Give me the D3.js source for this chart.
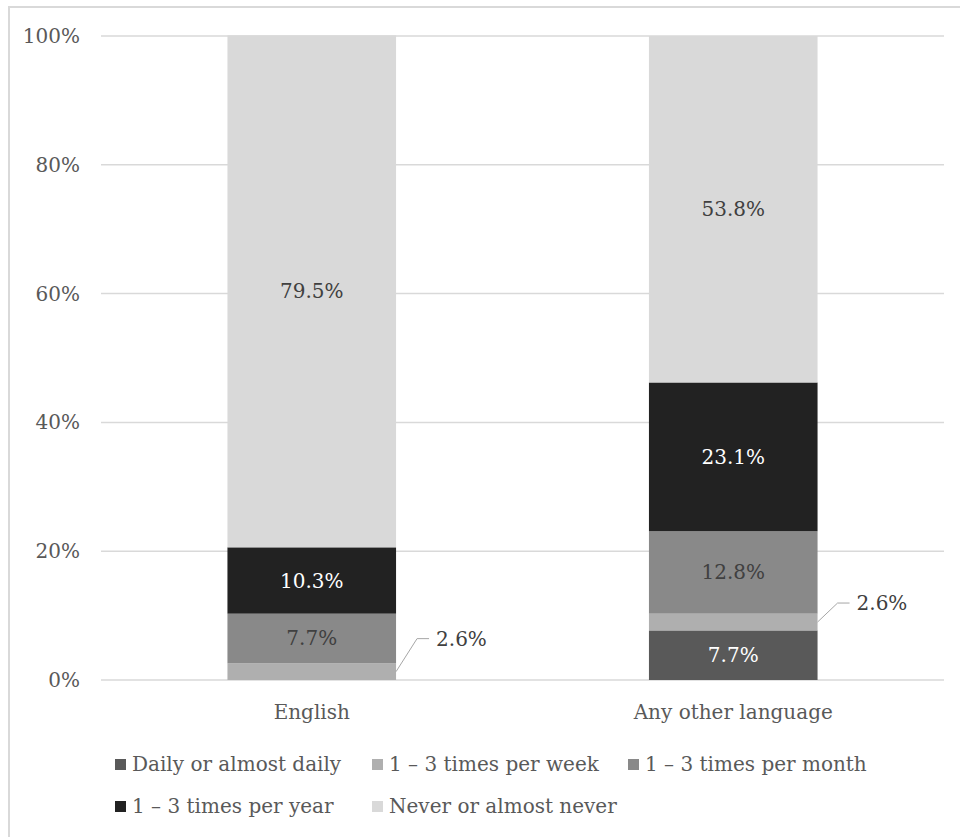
<!DOCTYPE html>
<html>
<head>
<meta charset="utf-8">
<script src="https://cdn.jsdelivr.net/npm/d3@7"></script>
<style>
  html, body { margin: 0; padding: 0; background: #fff; }
  svg { display: block; }
  text { font-family: "DejaVu Serif", "Liberation Serif", serif; }
</style>
</head>
<body>
<svg id="chart" width="960" height="837"></svg>
<script>
// Languages shown on the x axis
const categories = ["English", "Any other language"];

// Frequency series, bottom to top of each stack (percent)
const seriesNames = [
  "Daily or almost daily",
  "1 – 3 times per week",
  "1 – 3 times per month",
  "1 – 3 times per year",
  "Never or almost never"
];
const daily   = [0.0, 7.7];
const weekly  = [2.6, 2.6];
const monthly = [7.7, 12.8];
const yearly  = [10.3, 23.1];
const never   = [79.5, 53.8];

const yTicks = [0, 20, 40, 60, 80, 100];

// Build rows for d3.stack
const rows = categories.map((c, i) => ({
  category: c,
  [seriesNames[0]]: daily[i],
  [seriesNames[1]]: weekly[i],
  [seriesNames[2]]: monthly[i],
  [seriesNames[3]]: yearly[i],
  [seriesNames[4]]: never[i]
}));

const fills = {
  [seriesNames[0]]: "#595959",
  [seriesNames[1]]: "#afafaf",
  [seriesNames[2]]: "#898989",
  [seriesNames[3]]: "#222222",
  [seriesNames[4]]: "#d9d9d9"
};
const labelColors = {
  [seriesNames[0]]: "#ffffff",
  [seriesNames[1]]: "#404040",
  [seriesNames[2]]: "#404040",
  [seriesNames[3]]: "#ffffff",
  [seriesNames[4]]: "#404040"
};

const FS = 20;

const svg = d3.select("#chart");

// Outer frame
svg.append("rect")
  .attr("x", 9).attr("y", 7)
  .attr("width", 980).attr("height", 860)
  .attr("fill", "none")
  .attr("stroke", "#d9d9d9")
  .attr("stroke-width", 2);

const plot = { left: 101, right: 944, top: 36, bottom: 680 };

const x = d3.scaleBand()
  .domain(categories)
  .range([plot.left, plot.right])
  .paddingInner(0.6)
  .paddingOuter(0.3);

const y = d3.scaleLinear()
  .domain([0, 100])
  .range([plot.bottom, plot.top]);

// Gridlines
svg.append("g")
  .selectAll("line")
  .data(yTicks)
  .join("line")
  .attr("x1", plot.left).attr("x2", plot.right)
  .attr("y1", d => y(d)).attr("y2", d => y(d))
  .attr("stroke", "#d9d9d9")
  .attr("stroke-width", 1.5);

// Y axis labels
svg.append("g")
  .selectAll("text")
  .data(yTicks)
  .join("text")
  .attr("x", plot.left - 21)
  .attr("y", d => y(d))
  .attr("dy", "0.35em")
  .attr("text-anchor", "end")
  .attr("font-size", FS)
  .attr("fill", "#595959")
  .text(d => d + "%");

// Stacked bars
const stack = d3.stack().keys(seriesNames);
const layers = stack(rows);

const layerG = svg.append("g")
  .selectAll("g")
  .data(layers)
  .join("g")
  .attr("fill", d => fills[d.key]);

layerG.selectAll("rect")
  .data(d => d.map(p => ({ key: d.key, p })))
  .join("rect")
  .attr("x", d => x(d.p.data.category))
  .attr("width", x.bandwidth())
  .attr("y", d => y(d.p[1]))
  .attr("height", d => y(d.p[0]) - y(d.p[1]));

// Value labels: inside the segment, except thin segments which get a leader
const leaderOffsets = {
  "English": { dx: 21, dy: -33 },
  "Any other language": { dx: 20, dy: -19 }
};
const labelG = svg.append("g");
layers.forEach(layer => {
  layer.forEach(p => {
    const v = p[1] - p[0];
    if (v <= 0) return;
    const cat = p.data.category;
    const yMid = y((p[0] + p[1]) / 2);
    const txt = d3.format(".1f")(v) + "%";
    if (layer.key === seriesNames[1]) {
      const x0 = x(cat) + x.bandwidth();
      const off = leaderOffsets[cat];
      labelG.append("polyline")
        .attr("points", [[x0, yMid], [x0 + off.dx, yMid + off.dy], [x0 + off.dx + 12, yMid + off.dy]].map(q => q.join(",")).join(" "))
        .attr("fill", "none")
        .attr("stroke", "#a6a6a6")
        .attr("stroke-width", 1);
      labelG.append("text")
        .attr("x", x0 + off.dx + 19)
        .attr("y", yMid + off.dy)
        .attr("dy", "0.35em")
        .attr("font-size", FS)
        .attr("fill", "#404040")
        .text(txt);
    } else {
      labelG.append("text")
        .attr("x", x(cat) + x.bandwidth() / 2)
        .attr("y", yMid)
        .attr("dy", "0.35em")
        .attr("text-anchor", "middle")
        .attr("font-size", FS)
        .attr("fill", labelColors[layer.key])
        .text(txt);
    }
  });
});

// Category labels
svg.append("g")
  .selectAll("text")
  .data(categories)
  .join("text")
  .attr("x", d => x(d) + x.bandwidth() / 2)
  .attr("y", plot.bottom + 32)
  .attr("dy", "0.35em")
  .attr("text-anchor", "middle")
  .attr("font-size", FS)
  .attr("fill", "#595959")
  .text(d => d);

// Legend
const legendPos = [
  { x: 115, y: 764 },
  { x: 372, y: 764 },
  { x: 628, y: 764 },
  { x: 115, y: 806 },
  { x: 372, y: 806 }
];
const legend = svg.append("g")
  .selectAll("g")
  .data(seriesNames)
  .join("g")
  .attr("transform", (d, i) => `translate(${legendPos[i].x},${legendPos[i].y})`);
legend.append("rect")
  .attr("x", 0).attr("y", -5)
  .attr("width", 11).attr("height", 11)
  .attr("fill", d => fills[d]);
legend.append("text")
  .attr("x", 17)
  .attr("y", 0)
  .attr("dy", "0.35em")
  .attr("font-size", FS)
  .attr("fill", "#595959")
  .text(d => d);
</script>
</body>
</html>
